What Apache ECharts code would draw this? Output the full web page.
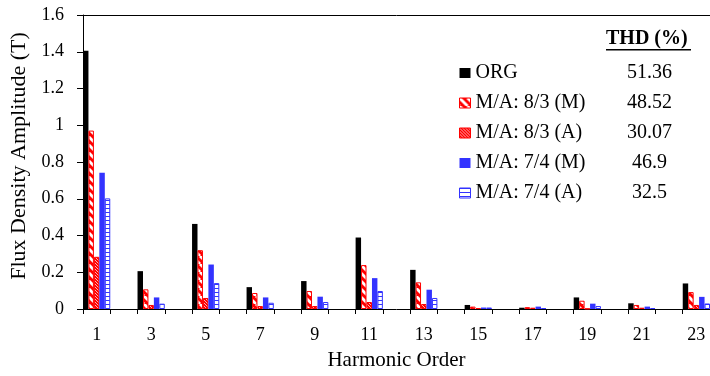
<!DOCTYPE html>
<html>
<head>
<meta charset="utf-8">
<script src="https://cdn.jsdelivr.net/npm/echarts@6/dist/echarts.min.js"></script>
<style>
  html, body { margin: 0; padding: 0; background: #fff; }
  #chart { width: 710px; height: 376px; }
</style>
</head>
<body>
<div id="chart"></div>
<script>
// Harmonic spectrum of the flux density (odd harmonics only)
const harmonicOrders = [1, 3, 5, 7, 9, 11, 13, 15, 17, 19, 21, 23];
const maxOrder = 23;

const seriesNames = ['ORG', 'M/A: 8/3 (M)', 'M/A: 8/3 (A)', 'M/A: 7/4 (M)', 'M/A: 7/4 (A)'];
const thdValues = ['51.36', '48.52', '30.07', '46.9', '32.5'];

const orgValues   = [1.406, 0.206, 0.463, 0.119, 0.152, 0.389, 0.213, 0.022, 0.007, 0.063, 0.031, 0.139];
const ma83MValues = [0.971, 0.107, 0.320, 0.087, 0.098, 0.239, 0.145, 0.013, 0.010, 0.045, 0.022, 0.092];
const ma83AValues = [0.284, 0.022, 0.060, 0.016, 0.016, 0.038, 0.027, 0.005, 0.007, 0.002, 0.007, 0.022];
const ma74MValues = [0.741, 0.063, 0.242, 0.063, 0.067, 0.168, 0.105, 0.008, 0.013, 0.029, 0.013, 0.066];
const ma74AValues = [0.602, 0.029, 0.141, 0.034, 0.038, 0.098, 0.060, 0.008, 0.005, 0.016, 0.005, 0.030];

const yTicks = { min: 0, max: 1.6, step: 0.2 };

// Category axis runs over every order 1..23; even orders stay empty.
const categories = [];
for (let k = 1; k <= maxOrder; k++) categories.push(String(k));
function spread(values) {
  const out = categories.map(() => '-');
  harmonicOrders.forEach((h, i) => { out[h - 1] = values[i]; });
  return out;
}

// Fill patterns
function makeTile(w, h, draw) {
  const c = document.createElement('canvas');
  c.width = w; c.height = h;
  const ctx = c.getContext('2d');
  draw(ctx, w, h);
  return { image: c, repeat: 'repeat' };
}
const RED = '#ff0000';
const BLUE = '#3333ff';

const redStripe = makeTile(8, 8, (ctx, w, h) => {
  ctx.fillStyle = RED; ctx.fillRect(0, 0, w, h);
  ctx.strokeStyle = '#ffffff'; ctx.lineWidth = 2.8;
  for (let o = -w; o <= w; o += w) {
    ctx.beginPath(); ctx.moveTo(o, 0); ctx.lineTo(o + w, h); ctx.stroke();
  }
});
const redDots = makeTile(3, 3, (ctx) => {
  ctx.fillStyle = RED; ctx.fillRect(0, 0, 3, 3);
  ctx.fillStyle = '#ffb0b0'; ctx.fillRect(0, 0, 1, 1); ctx.fillRect(1, 1, 1, 1); ctx.fillRect(2, 2, 1, 1);
});
const blueBricks = makeTile(4, 4, (ctx) => {
  ctx.fillStyle = '#ffffff'; ctx.fillRect(0, 0, 4, 4);
  ctx.fillStyle = BLUE; ctx.fillRect(0, 0, 4, 1);
});

const styles = [
  { color: '#000000' },
  { color: redStripe, borderColor: RED, borderWidth: 1 },
  { color: redDots, borderColor: RED, borderWidth: 1 },
  { color: BLUE },
  { color: blueBricks, borderColor: BLUE, borderWidth: 1 }
];
const valueSets = [orgValues, ma83MValues, ma83AValues, ma74MValues, ma74AValues];

const FONT = 'Liberation Serif';

const chart = echarts.init(document.getElementById('chart'), null, { renderer: 'canvas' });

chart.setOption({
  backgroundColor: '#ffffff',
  animation: false,
  textStyle: { fontFamily: FONT, color: '#000' },
  grid: { left: 83, top: 15, right: -6.5, bottom: 66, containLabel: false },
  xAxis: [{
    type: 'category',
    data: categories,
    boundaryGap: true,
    name: 'Harmonic Order',
    nameLocation: 'middle',
    nameGap: 41,
    nameTextStyle: { fontFamily: FONT, fontSize: 21, color: '#000' },
    axisLine: { lineStyle: { color: '#000', width: 1 } },
    axisTick: { show: true, interval: 0, length: 5, inside: false, lineStyle: { color: '#000' } },
    axisLabel: { interval: 1, margin: 17, fontFamily: FONT, fontSize: 18, color: '#000' },
    splitLine: { show: false }
  }, {
    type: 'category',
    position: 'top',
    data: categories,
    axisLine: { show: true, lineStyle: { color: '#000', width: 1 } },
    axisTick: { show: false },
    axisLabel: { show: false },
    splitLine: { show: false }
  }],
  yAxis: {
    type: 'value',
    min: yTicks.min,
    max: yTicks.max,
    interval: yTicks.step,
    name: 'Flux Density Amplitude (T)',
    nameLocation: 'middle',
    nameGap: 51,
    nameTextStyle: { fontFamily: FONT, fontSize: 22, color: '#000', padding: [0, 0, 0, 12] },
    axisLine: { show: true, lineStyle: { color: '#000', width: 1 } },
    axisTick: { show: true, length: 6, inside: false, lineStyle: { color: '#000' } },
    axisLabel: { margin: 19, fontFamily: FONT, fontSize: 18, color: '#000' },
    splitLine: { show: false }
  },
  legend: {
    orient: 'vertical',
    left: 459,
    top: 63,
    padding: 0,
    itemWidth: 11,
    itemHeight: 10,
    itemGap: 10,
    selectedMode: false,
    data: seriesNames.map((n, i) => ({
      name: n,
      icon: 'rect',
      itemStyle: styles[i].borderWidth ? { borderWidth: 1, borderColor: styles[i].borderColor } : { borderWidth: 0 }
    })),
    formatter: (name) => {
      const i = seriesNames.indexOf(name);
      return '{n|' + name + '}{v|' + thdValues[i] + '}';
    },
    textStyle: {
      fontFamily: FONT,
      fontSize: 20,
      color: '#000',
      lineHeight: 20,
      rich: {
        n: { fontFamily: FONT, fontSize: 20, width: 140, lineHeight: 20, color: '#000' },
        v: { fontFamily: FONT, fontSize: 20, width: 68, align: 'center', lineHeight: 20, color: '#000' }
      }
    }
  },
  graphic: [{
    type: 'group',
    left: 606,
    top: 29,
    children: [{
      type: 'text',
      x: 0, y: 0,
      style: { text: 'THD (%)', font: 'bold 20px "Liberation Serif"', fill: '#000' }
    }, {
      type: 'rect',
      shape: { x: 0, y: 20, width: 85, height: 1.5 },
      style: { fill: '#000' }
    }]
  }],
  series: seriesNames.map((n, i) => ({
    name: n,
    type: 'bar',
    xAxisIndex: 0,
    data: spread(valueSets[i]),
    barGap: '0%',
    barCategoryGap: '0%',
    itemStyle: styles[i],
    emphasis: { disabled: true }
  }))
});
</script>
</body>
</html>
